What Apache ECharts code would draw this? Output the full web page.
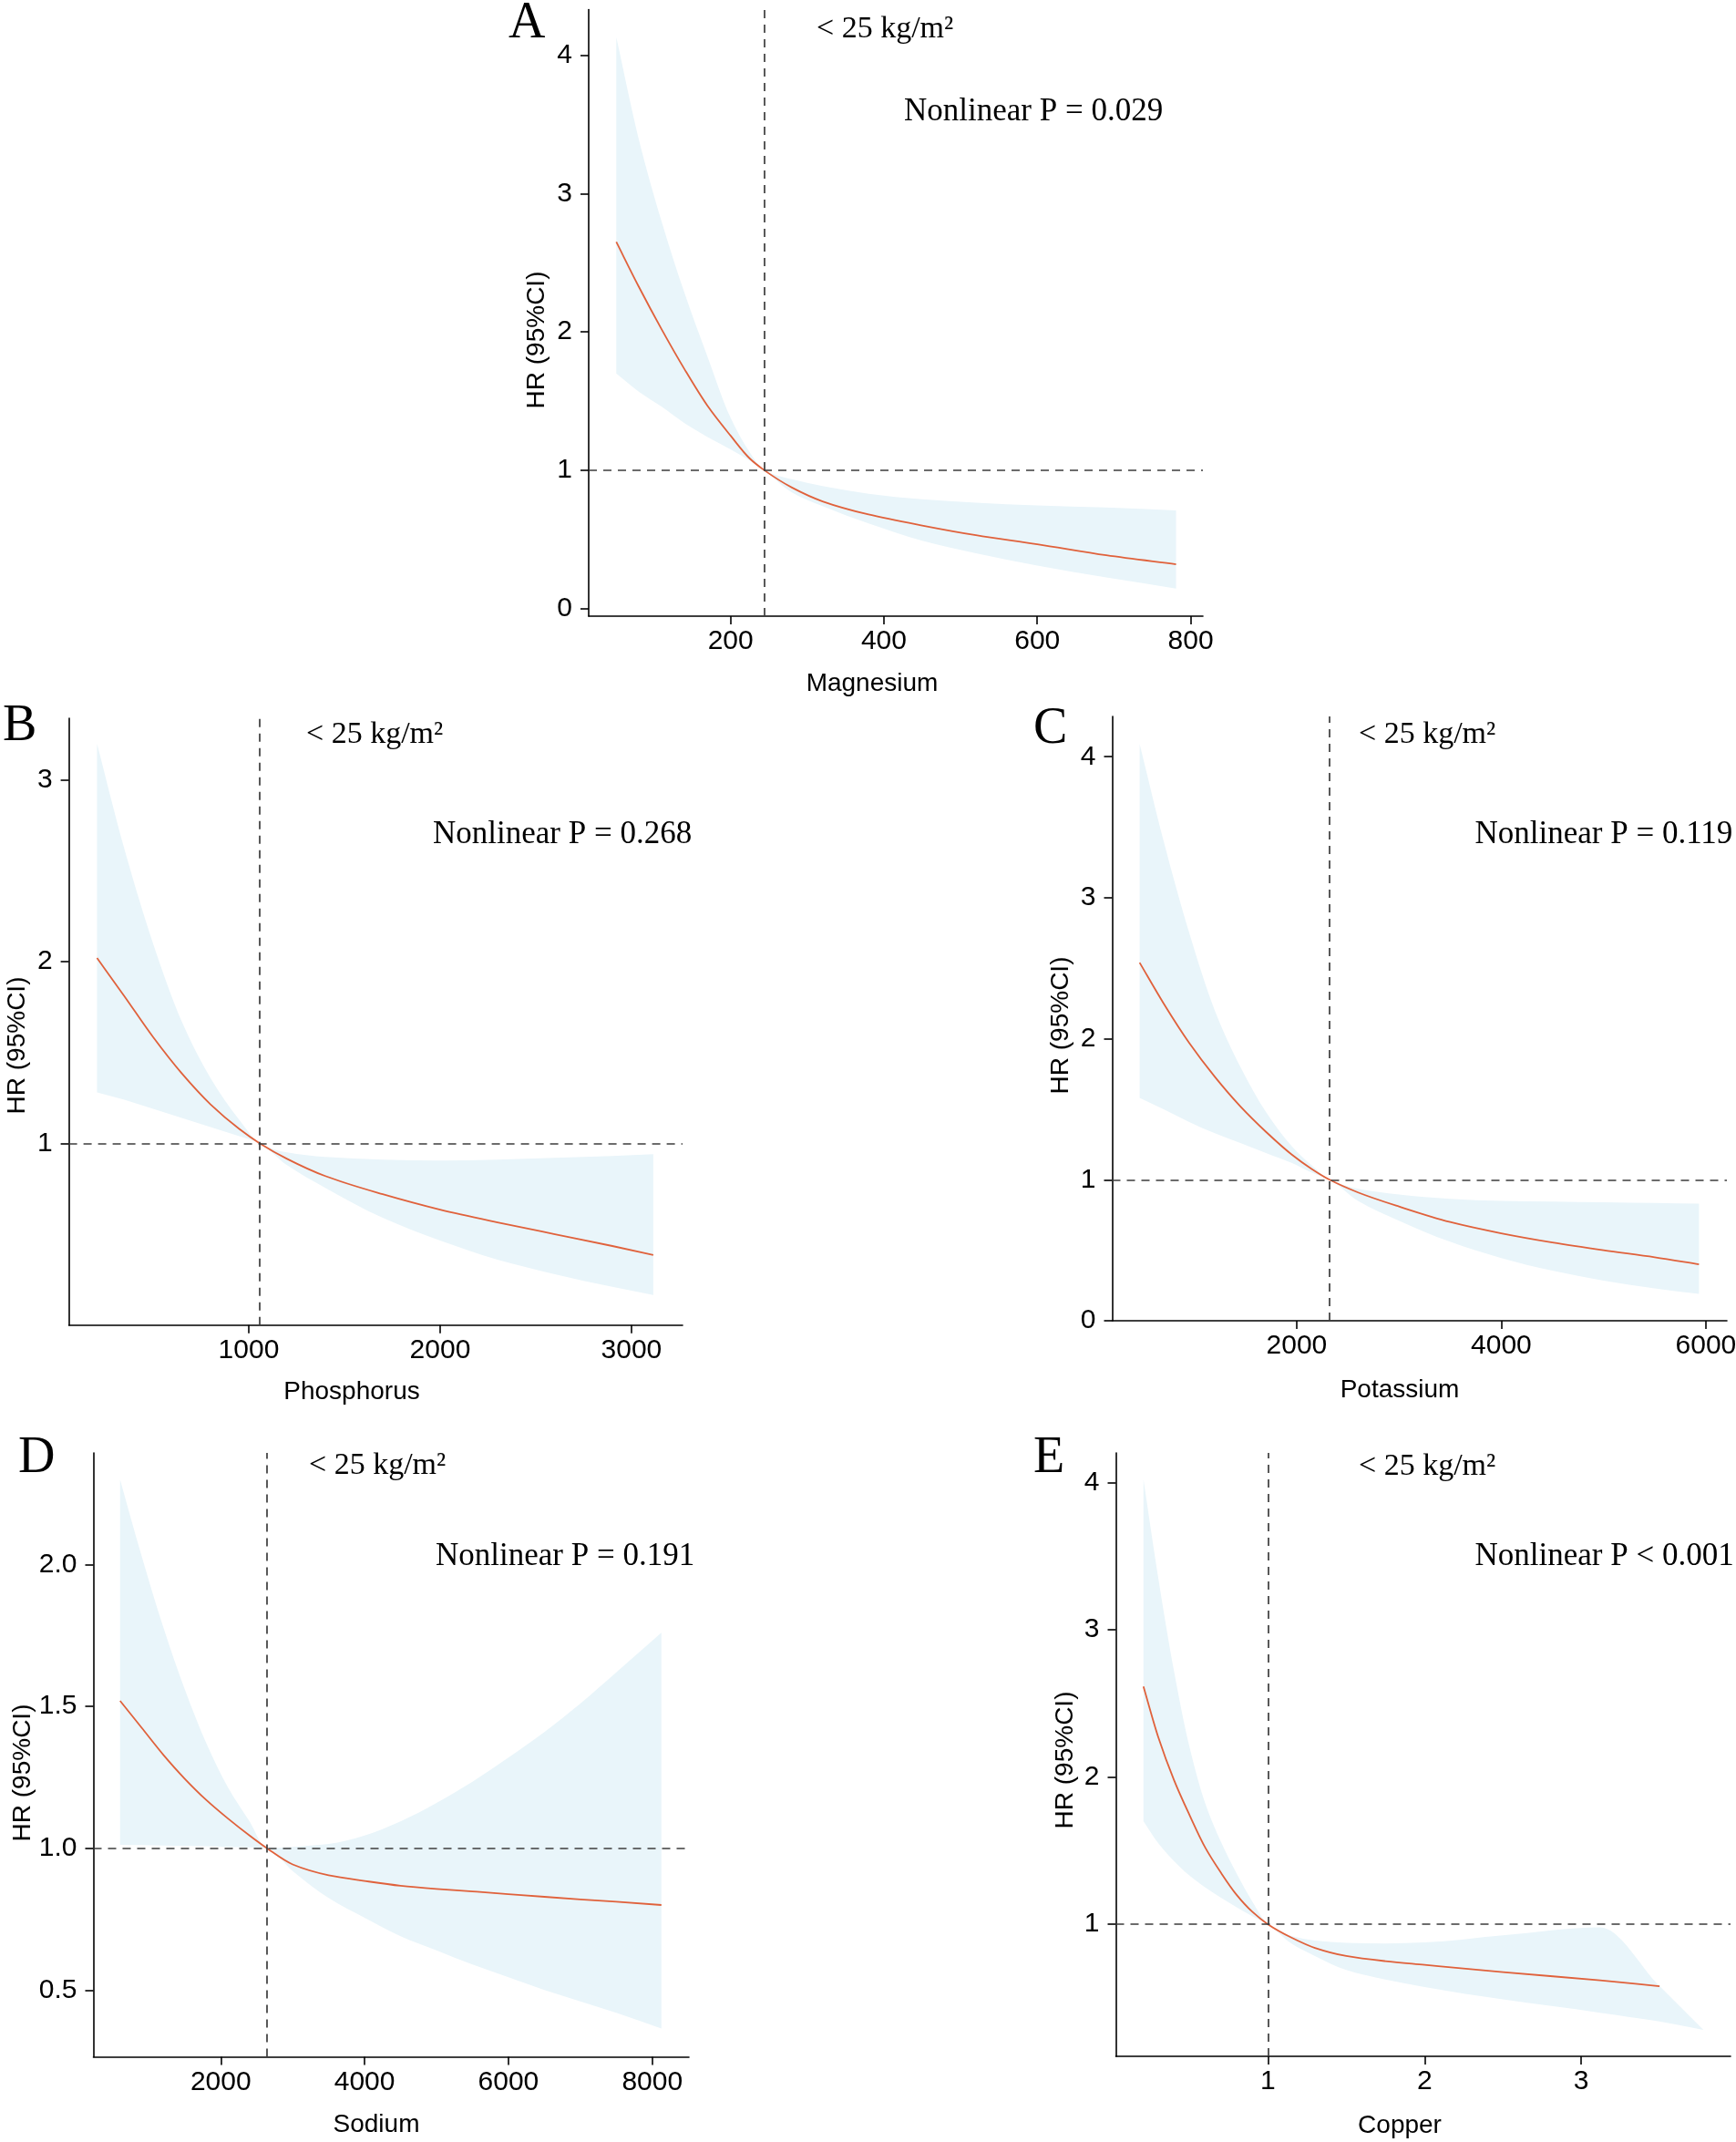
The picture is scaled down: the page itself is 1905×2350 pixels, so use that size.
<!DOCTYPE html>
<html>
<head>
<meta charset="utf-8">
<script src="https://cdn.jsdelivr.net/npm/echarts@6/dist/echarts.min.js"></script>
<style>
html, body { margin: 0; padding: 0; background: #fff; }
#chart { width: 1905px; height: 2350px; }
</style>
</head>
<body>
<div id="chart"></div>
<script>
// values: x, HR, lower and upper 95% CI
const magX  = [51, 80, 110, 140, 170, 200, 225, 244, 280, 320, 380, 450, 520, 600, 690, 781];
const magHR = [2.65, 2.33, 2.02, 1.73, 1.465, 1.25, 1.085, 1.00, 0.875, 0.775, 0.68, 0.60, 0.53, 0.465, 0.385, 0.32];
const magLo = [1.70, 1.57, 1.46, 1.34, 1.24, 1.15, 1.07, 1.00, 0.84, 0.74, 0.615, 0.49, 0.40, 0.31, 0.225, 0.145];
const magHi = [4.13, 3.40, 2.80, 2.28, 1.82, 1.38, 1.13, 1.00, 0.935, 0.885, 0.83, 0.79, 0.765, 0.745, 0.73, 0.71];

const phosX  = [207, 350, 500, 650, 800, 950, 1058, 1200, 1400, 1700, 2000, 2300, 2600, 2900, 3114];
const phosHR = [2.02, 1.81, 1.585, 1.385, 1.215, 1.08, 1.00, 0.915, 0.82, 0.72, 0.635, 0.565, 0.50, 0.435, 0.385];
const phosLo = [1.28, 1.24, 1.19, 1.14, 1.09, 1.04, 1.00, 0.88, 0.755, 0.59, 0.465, 0.36, 0.28, 0.21, 0.165];
const phosHi = [3.20, 2.62, 2.10, 1.67, 1.36, 1.13, 1.00, 0.95, 0.925, 0.91, 0.905, 0.91, 0.92, 0.93, 0.94];

const potX  = [465, 700, 950, 1200, 1450, 1700, 1950, 2150, 2322, 2600, 3000, 3500, 4000, 4500, 5000, 5500, 5933];
const potHR = [2.54, 2.25, 1.97, 1.73, 1.52, 1.34, 1.18, 1.075, 1.00, 0.91, 0.81, 0.70, 0.62, 0.555, 0.50, 0.45, 0.40];
const potLo = [1.58, 1.50, 1.41, 1.33, 1.26, 1.19, 1.12, 1.05, 1.00, 0.85, 0.71, 0.56, 0.445, 0.355, 0.285, 0.23, 0.19];
const potHi = [4.09, 3.40, 2.75, 2.20, 1.80, 1.48, 1.24, 1.10, 1.00, 0.935, 0.895, 0.865, 0.85, 0.845, 0.84, 0.835, 0.83];

const sodX  = [600, 900, 1200, 1500, 1800, 2100, 2400, 2643, 3000, 3500, 4000, 4500, 5000, 5500, 6000, 6500, 7000, 7500, 8127];
const sodHR = [1.52, 1.425, 1.33, 1.245, 1.17, 1.105, 1.045, 1.00, 0.943, 0.905, 0.885, 0.868, 0.857, 0.848, 0.838, 0.829, 0.82, 0.812, 0.80];
const sodLo = [1.012, 1.011, 1.010, 1.009, 1.007, 1.005, 1.003, 1.00, 0.92, 0.825, 0.755, 0.69, 0.64, 0.59, 0.545, 0.50, 0.46, 0.42, 0.365];
const sodHi = [2.30, 2.03, 1.78, 1.56, 1.37, 1.215, 1.095, 1.00, 1.005, 1.015, 1.045, 1.095, 1.16, 1.235, 1.32, 1.41, 1.51, 1.62, 1.76];

const cuX  = [0.205, 0.3, 0.4, 0.5, 0.6, 0.7, 0.8, 0.9, 1.0, 1.15, 1.3, 1.5, 1.75, 2.0, 2.5, 3.12, 3.5, 3.78];
const cuHR = [2.615, 2.27, 1.98, 1.74, 1.52, 1.35, 1.20, 1.085, 1.00, 0.91, 0.84, 0.785, 0.75, 0.725, 0.675, 0.62, 0.58];
const cuLo = [1.70, 1.55, 1.43, 1.33, 1.25, 1.18, 1.115, 1.055, 1.00, 0.87, 0.785, 0.69, 0.625, 0.575, 0.49, 0.40, 0.34, 0.284];
const cuHi = [4.02, 3.35, 2.72, 2.20, 1.82, 1.56, 1.345, 1.155, 1.00, 0.92, 0.89, 0.875, 0.87, 0.877, 0.925, 0.98, 0.58, 0.284];

// reference values where HR = 1
const refX = [244, 1058, 2322, 2643, 1.0];
const refHR = 1;

// tick labels
const magXTicks = [200, 400, 600, 800],     magYTicks = [0, 1, 2, 3, 4];
const phosXTicks = [1000, 2000, 3000],      phosYTicks = [1, 2, 3];
const potXTicks = [2000, 4000, 6000],       potYTicks = [0, 1, 2, 3, 4];
const sodXTicks = [2000, 4000, 6000, 8000], sodYTicks = [0.5, 1.0, 1.5, 2.0];
const cuXTicks = [1, 2, 3],                 cuYTicks = [1, 2, 3, 4];

const letters = ['A', 'B', 'C', 'D', 'E'];
const names = ['Magnesium', 'Phosphorus', 'Potassium', 'Sodium', 'Copper'];
const pTexts = ['Nonlinear P = 0.029', 'Nonlinear P = 0.268', 'Nonlinear P = 0.119', 'Nonlinear P = 0.191', 'Nonlinear P < 0.001'];
const groupText = '< 25 kg/m\u00b2';

const panels = [
  { xs: magX, hr: magHR, lo: magLo, hi: magHi, xt: magXTicks, yt: magYTicks, fmt: v => String(v),
    box: [646, 10.5, 1320, 676], xr: [15, 816], yr: [-0.055, 4.33],
    letter: [558, 26], group: [896, 32], pv: [992, 122.5], xName: [957, 750], yName: [589, 373] },
  { xs: phosX, hr: phosHR, lo: phosLo, hi: phosHi, xt: phosXTicks, yt: phosYTicks, fmt: v => String(v),
    box: [75.6, 788, 749, 1453.7], xr: [60, 3267], yr: [0, 3.34],
    letter: [3, 797], group: [336, 806], pv: [475, 916], xName: [386, 1527], yName: [19.5, 1147] },
  { xs: potX, hr: potHR, lo: potLo, hi: potHi, xt: potXTicks, yt: potYTicks, fmt: v => String(v),
    box: [1220.5, 786, 1895, 1449], xr: [197, 6206], yr: [0, 4.286],
    letter: [1134, 800], group: [1491, 806], pv: [1618.5, 916], xName: [1536, 1525], yName: [1164, 1125] },
  { xs: sodX, hr: sodHR, lo: sodLo, hi: sodHi, xt: sodXTicks, yt: sodYTicks, fmt: v => v.toFixed(1),
    box: [102.5, 1594, 756, 2256.5], xr: [229, 8510], yr: [0.265, 2.394],
    letter: [20, 1600], group: [339, 1608], pv: [478, 1708], xName: [413, 2331], yName: [25, 1945] },
  { xs: cuX, hr: cuHR, lo: cuLo, hi: cuHi, xt: cuXTicks, yt: cuYTicks, fmt: v => String(v),
    box: [1224.5, 1594, 1899, 2256], xr: [0.029, 3.953], yr: [0.104, 4.20],
    letter: [1134, 1600], group: [1491, 1609], pv: [1618.5, 1708], xName: [1536, 2332], yName: [1169, 1931] }
];

const sans = '"Liberation Sans", Arial, sans-serif';
const serif = '"Liberation Serif", "Times New Roman", serif';
const bandColor = '#E9F5FA';
const lineColor = '#E0613B';
const dashColor = '#3C3C3C';

// monotone cubic (pchip) bezier segments through pixel points
function pchipSegs(pts) {
  const n = pts.length, h = [], d = [], m = [];
  for (let i = 0; i < n - 1; i++) {
    h[i] = pts[i + 1][0] - pts[i][0];
    d[i] = (pts[i + 1][1] - pts[i][1]) / h[i];
  }
  m[0] = d[0];
  m[n - 1] = d[n - 2];
  for (let i = 1; i < n - 1; i++) {
    if (d[i - 1] * d[i] <= 0) { m[i] = 0; continue; }
    const w1 = 2 * h[i] + h[i - 1], w2 = h[i] + 2 * h[i - 1];
    m[i] = (w1 + w2) / (w1 / d[i - 1] + w2 / d[i]);
  }
  const segs = [];
  for (let i = 0; i < n - 1; i++) {
    const a = pts[i], b = pts[i + 1], k = h[i] / 3;
    segs.push([a, [a[0] + k, a[1] + m[i] * k], [b[0] - k, b[1] - m[i + 1] * k], b]);
  }
  return segs;
}

const f = p => p[0].toFixed(2) + ' ' + p[1].toFixed(2);

function curvePath(pts) {
  let s = 'M' + f(pts[0]);
  pchipSegs(pts).forEach(g => { s += ' C' + f(g[1]) + ' ' + f(g[2]) + ' ' + f(g[3]); });
  return s;
}

function bandPath(up, dn) {
  let s = curvePath(up) + ' L' + f(dn[dn.length - 1]);
  pchipSegs(dn).reverse().forEach(g => { s += ' C' + f(g[2]) + ' ' + f(g[1]) + ' ' + f(g[0]); });
  return s + ' Z';
}

function txt(x, y, text, font, align, rotation) {
  return {
    type: 'text', x: x, y: y, rotation: rotation || 0, silent: true, z: 100,
    style: {
      text: text, font: font, fill: '#000',
      textAlign: align, align: align,
      textVerticalAlign: 'middle', verticalAlign: 'middle'
    }
  };
}

const grid = [], xAxis = [], yAxis = [], series = [], graphic = [];

panels.forEach((p, i) => {
  const [l, t, r, b] = p.box;
  grid.push({ left: l, top: t, width: r - l, height: b - t, containLabel: false, outerBoundsMode: 'none' });

  const tick = { show: true, inside: false, length: 9, lineStyle: { color: '#000', width: 1.6 } };
  const line = { show: true, onZero: false, lineStyle: { color: '#000', width: 1.6 } };
  xAxis.push({
    type: 'value', gridIndex: i, min: p.xr[0], max: p.xr[1],
    splitLine: { show: false }, axisLine: line,
    axisTick: Object.assign({ customValues: p.xt }, tick),
    axisLabel: { customValues: p.xt, fontSize: 30, fontFamily: sans, color: '#000', margin: 13, formatter: v => String(v) }
  });
  yAxis.push({
    type: 'value', gridIndex: i, min: p.yr[0], max: p.yr[1],
    splitLine: { show: false }, axisLine: line,
    axisTick: Object.assign({ customValues: p.yt }, tick),
    axisLabel: { customValues: p.yt, fontSize: 30, fontFamily: sans, color: '#000', margin: 18, formatter: p.fmt }
  });

  // 95% CI band: upper edge forward, lower edge back
  series.push({
    type: 'custom', xAxisIndex: i, yAxisIndex: i, silent: true, z: 1,
    data: p.xs.map((x, k) => [x, p.lo[k], p.hi[k]]),
    encode: { x: 0, y: [1, 2] },
    renderItem: (params, api) => {
      if (params.dataIndex !== 0) return null;
      const up = p.xs.map((x, k) => api.coord([x, p.hi[k]]));
      const dn = p.xs.map((x, k) => api.coord([x, p.lo[k]]));
      return { type: 'path', shape: { pathData: bandPath(up, dn) }, style: { fill: bandColor, stroke: 'none' } };
    }
  });
  // fitted HR curve, with the dashed reference lines
  series.push({
    type: 'custom', xAxisIndex: i, yAxisIndex: i, silent: true, z: 3,
    data: p.hr.map((v, k) => [p.xs[k], v]),
    encode: { x: 0, y: 1 },
    renderItem: (params, api) => {
      if (params.dataIndex !== 0) return null;
      const pts = p.hr.map((v, k) => api.coord([p.xs[k], v]));
      return { type: 'path', shape: { pathData: curvePath(pts) },
               style: { fill: 'none', stroke: lineColor, lineWidth: 1.8 } };
    },
    markLine: {
      silent: true, symbol: 'none', label: { show: false },
      lineStyle: { color: dashColor, width: 1.7, type: [9, 7] },
      data: [{ xAxis: refX[i] }, { yAxis: refHR }]
    }
  });

  graphic.push(txt(p.letter[0], p.letter[1], letters[i], '56px ' + serif, 'left'));
  graphic.push(txt(p.group[0], p.group[1], groupText, '34px ' + serif, 'left'));
  graphic.push(txt(p.pv[0], p.pv[1], pTexts[i], '35px ' + serif, 'left'));
  graphic.push(txt(p.xName[0], p.xName[1], names[i], '28px ' + sans, 'center'));
  graphic.push(txt(p.yName[0], p.yName[1], 'HR (95%CI)', '28px ' + sans, 'center', Math.PI / 2));
});

const chart = echarts.init(document.getElementById('chart'));
chart.setOption({
  animation: false,
  backgroundColor: '#fff',
  grid: grid,
  xAxis: xAxis,
  yAxis: yAxis,
  series: series,
  graphic: graphic
});
</script>
</body>
</html>
